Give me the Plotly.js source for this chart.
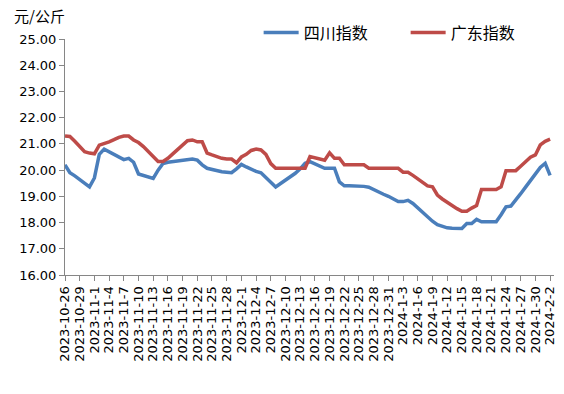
<!DOCTYPE html>
<html>
<head>
<meta charset="utf-8">
<script src="https://cdn.plot.ly/plotly-3.0.1.min.js"></script>
<style>html,body{margin:0;padding:0;background:#fff}#chart{width:564px;height:394px}</style>
</head>
<body>
<div id="chart"></div>
<script>
// Daily categories 2023-10-26 .. 2024-2-2
const startDate = [2023, 10, 26];
const dayCount = 100;
const categories = [];
(function(){
  const d = new Date(Date.UTC(startDate[0], startDate[1]-1, startDate[2]));
  for (let k = 0; k < dayCount; k++) {
    categories.push(d.getUTCFullYear() + '-' + (d.getUTCMonth()+1) + '-' + d.getUTCDate());
    d.setUTCDate(d.getUTCDate()+1);
  }
})();

const seriesNames = ['四川指数', '广东指数'];

const sichuan = [
  20.20, 19.90, 19.78, 19.65, 19.50, 19.36, 19.70, 20.60, 20.80, 20.70,
  20.60, 20.50, 20.40, 20.45, 20.30, 19.85, 19.80, 19.75, 19.68, 20.00,
  20.25, 20.30, 20.33, 20.36, 20.38, 20.40, 20.42, 20.38, 20.20, 20.07,
  20.02, 19.97, 19.94, 19.92, 19.90, 20.05, 20.22, 20.12, 20.02, 19.95,
  19.90, 19.73, 19.55, 19.36, 19.49, 19.62, 19.75, 19.88, 20.05, 20.26,
  20.32, 20.24, 20.15, 20.07, 20.07, 20.07, 19.55, 19.40, 19.40, 19.40,
  19.40, 19.38, 19.35, 19.25, 19.17, 19.08, 19.00, 18.90, 18.80, 18.80,
  18.85, 18.73, 18.55, 18.38, 18.22, 18.05, 17.92, 17.85, 17.80, 17.78,
  17.77, 17.77, 17.96, 17.96, 18.12, 18.03, 18.03, 18.03, 18.03, 18.30,
  18.60, 18.63, 18.85, 19.10, 19.35, 19.60, 19.85, 20.10, 20.26, 19.80
];

const guangdong = [
  21.30, 21.28, 21.10, 20.90, 20.70, 20.65, 20.62, 20.95, 21.00, 21.08,
  21.16, 21.25, 21.30, 21.30, 21.15, 21.05, 20.90, 20.70, 20.50, 20.33,
  20.33, 20.45, 20.62, 20.78, 20.95, 21.12, 21.15, 21.08, 21.08, 20.65,
  20.58, 20.50, 20.45, 20.42, 20.42, 20.28, 20.50, 20.60, 20.75, 20.80,
  20.77, 20.60, 20.25, 20.07, 20.07, 20.07, 20.07, 20.07, 20.07, 20.07,
  20.52, 20.47, 20.43, 20.38, 20.66, 20.45, 20.45, 20.20, 20.20, 20.20,
  20.20, 20.20, 20.07, 20.07, 20.07, 20.07, 20.07, 20.07, 20.07, 19.92,
  19.92, 19.80, 19.67, 19.53, 19.40, 19.36, 19.05, 18.90, 18.77, 18.65,
  18.53, 18.43, 18.43, 18.55, 18.65, 19.26, 19.26, 19.26, 19.26, 19.36,
  19.98, 19.98, 19.98, 20.15, 20.32, 20.49, 20.58, 20.96, 21.10, 21.18
];

const yTicks = [16, 17, 18, 19, 20, 21, 22, 23, 24, 25];
const xTickLabels = categories.filter((c, k) => k % 3 === 0);

const colors = ['#4A7EBB', '#BE4B48'];
const latin = 'DejaVu Sans, sans-serif';
const cjk = 'Noto Sans CJK SC, sans-serif';

const traces = [
  {x: categories, y: sichuan, name: seriesNames[0], type: 'scatter', mode: 'lines',
   line: {color: colors[0], width: 3.5}},
  {x: categories, y: guangdong, name: seriesNames[1], type: 'scatter', mode: 'lines',
   line: {color: colors[1], width: 3.5}}
];

const layout = {
  width: 564, height: 394,
  margin: {l: 65, r: 10, t: 39, b: 119, autoexpand: false},
  paper_bgcolor: '#fff', plot_bgcolor: '#fff',
  showlegend: true,
  legend: {orientation: 'h', x: 0.396, xanchor: 'left', y: 1.027, yanchor: 'middle',
    font: {family: cjk, size: 16, color: '#000'}, entrywidth: 97, entrywidthmode: 'pixels',
    itemwidth: 35, bgcolor: 'rgba(0,0,0,0)', tracegroupgap: 0},
  xaxis: {type: 'category', range: [0, 99.8], tickmode: 'array', tickvals: xTickLabels, ticktext: xTickLabels,
    tickangle: -90, tickfont: {family: latin, size: 13, color: '#000'},
    showline: true, linecolor: '#868686', linewidth: 1, ticks: 'outside', ticklen: 5, tickcolor: '#868686',
    showgrid: false, zeroline: false, fixedrange: true, automargin: false},
  yaxis: {range: [16, 25], tickmode: 'array', tickvals: yTicks, ticktext: yTicks.map(v => v.toFixed(2)),
    tickfont: {family: latin, size: 13, color: '#000'},
    showline: true, linecolor: '#868686', linewidth: 1, ticks: 'outside', ticklen: 5, tickcolor: '#868686',
    showgrid: false, zeroline: false, fixedrange: true, automargin: false},
  annotations: [{text: '元/公斤', xref: 'paper', yref: 'paper', x: -0.108, y: 1.1, xanchor: 'left', yanchor: 'middle',
    showarrow: false, font: {family: cjk, size: 15, color: '#000'}}]
};

Plotly.newPlot('chart', traces, layout, {displayModeBar: false, staticPlot: true});
</script>
</body>
</html>
